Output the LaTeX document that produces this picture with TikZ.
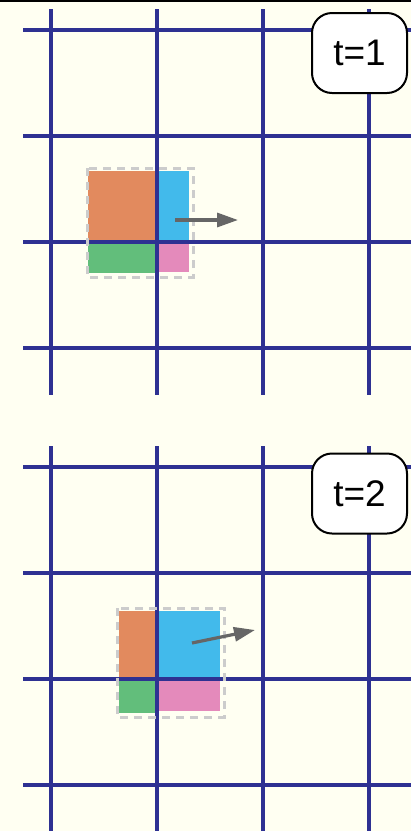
\documentclass[tikz,border=0pt]{standalone}
\usepackage{fontspec}
\setsansfont{Liberation Sans}
\usetikzlibrary{arrows.meta}
\definecolor{bg}{RGB}{255,255,242}
\definecolor{gridblue}{RGB}{46,49,146}
\definecolor{orng}{RGB}{226,138,94}
\definecolor{skyb}{RGB}{66,186,235}
\definecolor{grn}{RGB}{98,190,123}
\definecolor{pnk}{RGB}{228,138,187}
\definecolor{dashgray}{RGB}{204,204,204}
\definecolor{arrgray}{RGB}{102,102,102}
\begin{document}
\begin{tikzpicture}[x=1pt, y=-1pt,
  gridline/.style={draw=gridblue, line width=3.2pt},
  bound/.style={draw=dashgray, line width=3pt, dash pattern=on 8pt off 6pt},
  mv/.style={draw=arrgray, line width=3.2pt, -{Triangle[length=21pt,width=14pt]}},
  tag/.style={draw=black, line width=2pt, fill=white, rounded corners=20pt, minimum width=95pt, minimum height=80pt, inner sep=0pt, font=\sffamily\fontsize{37}{37}\selectfont}
]
\useasboundingbox (0,0) rectangle (411,831);
\fill[bg] (0,0) rectangle (411,831);
\draw[black, line width=2.4pt] (0,1.2) -- (411,1.2);

% t=1
\fill[orng] (88,171) rectangle (157,242);
\fill[skyb] (157,171) rectangle (189,242);
\fill[grn] (88,242) rectangle (157,273);
\fill[pnk] (157,242) rectangle (189,272);
\foreach \x in {51,157,263,369} \draw[gridline] (\x,9) -- (\x,395);
\foreach \y in {30,136,242,348} \draw[gridline] (23,\y) -- (411,\y);
\draw[bound] (87,168) rectangle (193,277);
\coordinate (m1s) at (175,220);
\coordinate (m1e) at (238,220);
\draw[mv] (m1s) -- (m1e);
\node[tag] (t1) at (359.5,53) {t=1};

% t=2
\fill[orng] (119,611) rectangle (157,679);
\fill[skyb] (157,611) rectangle (220,679);
\fill[grn] (119,679) rectangle (157,713);
\fill[pnk] (157,679) rectangle (220,711);
\foreach \x in {51,157,263,369} \draw[gridline] (\x,446) -- (\x,831);
\foreach \y in {467,573,679,785} \draw[gridline] (23,\y) -- (411,\y);
\draw[bound] (117,608) rectangle (224,717);
\coordinate (m2s) at (192,643);
\coordinate (m2e) at (255,630);
\draw[mv] (m2s) -- (m2e);
\node[tag] (t2) at (359.5,493.5) {t=2};
\end{tikzpicture}
\end{document}
